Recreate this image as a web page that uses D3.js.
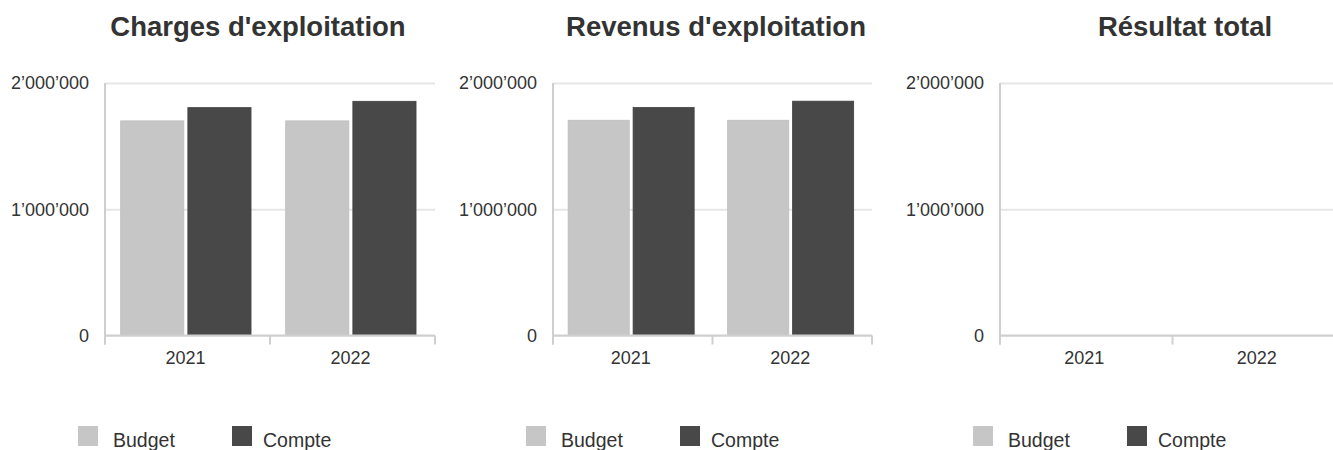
<!DOCTYPE html>
<head>
    <meta charset="utf-8">
</head>
<style>
    body { margin: 0; background: #fff; }
    svg { display: block; font-family: "Liberation Sans", Arial, sans-serif; }
    .title { font-size: 27.5px; font-weight: bold; fill: #333; }
    .xlab { font-size: 18px; fill: #333; }
    .legend text { font-size: 19.5px; fill: #333; }
</style>
<svg id="chart" width="1333" height="450"></svg>
<script src="https://cdn.jsdelivr.net/npm/d3@7"></script>
<script>

    var years = ["2021", "2022"];
    var series = ["Budget", "Compte"];
    var yTicks = [0, 1000000, 2000000];

    var chargesBudget = [1700000, 1700000];
    var chargesCompte = [1805000, 1855000];
    var revenusBudget = [1705000, 1705000];
    var revenusCompte = [1806000, 1856000];
    var resultatBudget = [0, 0];
    var resultatCompte = [0, 0];

    var titles = ["Charges d'exploitation", "Revenus d'exploitation", "Résultat total"];

    var colors = {Budget: "#c6c6c6", Compte: "#484848"};

    // panel layout (left / right edge of plot area, title centre)
    var panels = [
        {left: 105, right: 435, tx: 258, budget: chargesBudget, compte: chargesCompte},
        {left: 553, right: 872, tx: 716, budget: revenusBudget, compte: revenusCompte},
        {left: 1000, right: 1345, tx: 1185, budget: resultatBudget, compte: resultatCompte}
    ];

    var plotTop = 83, plotBottom = 335.5;

    var fmt = d3.formatLocale({decimal: ".", thousands: "’", grouping: [3], currency: ["", ""]}).format(",d");

    var svg = d3.select("#chart");

    panels.forEach(function (p, i) {
        var w = p.right - p.left;
        var g = svg.append("g").attr("transform", "translate(" + p.left + ",0)");

        var y = d3.scaleLinear().domain([0, 2000000]).range([plotBottom, plotTop]);
        var x0 = d3.scaleBand().domain(years).range([0, w]).padding(0);
        var bw = x0.bandwidth();
        var x1 = d3.scaleBand().domain(series)
            .range([bw * 0.095, bw * 0.885])
            .paddingInner(0.06);

        svg.append("text")
            .attr("class", "title")
            .attr("x", p.tx)
            .attr("y", 36)
            .attr("text-anchor", "middle")
            .text(titles[i]);

        // grid + y labels
        var yax = g.append("g")
            .call(d3.axisLeft(y).tickValues(yTicks).tickFormat(fmt).tickSize(-w).tickPadding(16));
        yax.select(".domain").remove();
        yax.selectAll("line").attr("stroke", "#e6e6e6").attr("stroke-width", 2);
        yax.selectAll("text")
            .attr("font-family", "Liberation Sans, Arial, sans-serif")
            .attr("font-size", 18)
            .attr("fill", "#333");

        // bars
        var rows = years.map(function (yr, j) {
            return {year: yr, vals: [{s: "Budget", v: p.budget[j]}, {s: "Compte", v: p.compte[j]}]};
        });
        g.selectAll("g.grp")
            .data(rows)
            .enter().append("g")
            .attr("class", "grp")
            .attr("transform", function (d) { return "translate(" + x0(d.year) + ",0)"; })
            .selectAll("rect")
            .data(function (d) { return d.vals.filter(function (e) { return e.v > 0; }); })
            .enter().append("rect")
            .attr("x", function (d) { return x1(d.s); })
            .attr("width", x1.bandwidth())
            .attr("y", function (d) { return y(d.v); })
            .attr("height", function (d) { return plotBottom - y(d.v); })
            .attr("fill", function (d) { return colors[d.s]; })
            .attr("stroke", function (d) { return d.s == "Budget" ? "#bdbdbd" : "#404040"; })
            .attr("stroke-width", 0.8);

        // axes lines
        g.append("line")
            .attr("x1", 0).attr("x2", 0)
            .attr("y1", plotTop).attr("y2", plotBottom + 9)
            .attr("stroke", "#cfcfcf").attr("stroke-width", 2);
        g.append("line")
            .attr("x1", 0).attr("x2", w)
            .attr("y1", plotBottom).attr("y2", plotBottom)
            .attr("stroke", "#cfcfcf").attr("stroke-width", 2);
        var edges = years.map(function (d) { return x0(d); }).concat([w]);
        g.selectAll("line.tick")
            .data(edges)
            .enter().append("line")
            .attr("class", "tick")
            .attr("x1", function (d) { return d; })
            .attr("x2", function (d) { return d; })
            .attr("y1", plotBottom).attr("y2", plotBottom + 9)
            .attr("stroke", "#cfcfcf").attr("stroke-width", 2);

        g.selectAll("text.xlab")
            .data(years)
            .enter().append("text")
            .attr("class", "xlab")
            .attr("x", function (d) { return x0(d) + bw / 2 - 2; })
            .attr("y", 364)
            .attr("text-anchor", "middle")
            .text(function (d) { return d; });

        // legend
        var lg = svg.append("g").attr("class", "legend")
            .attr("transform", "translate(" + (p.left - 27) + ",0)");
        series.forEach(function (s, k) {
            var ox = k * 154;
            lg.append("rect")
                .attr("x", ox).attr("y", 426)
                .attr("width", 20).attr("height", 20)
                .attr("fill", colors[s]);
            lg.append("text")
                .attr("x", ox + (k == 0 ? 35 : 31))
                .attr("y", 446.5)
                .text(s);
        });
    });
</script>
